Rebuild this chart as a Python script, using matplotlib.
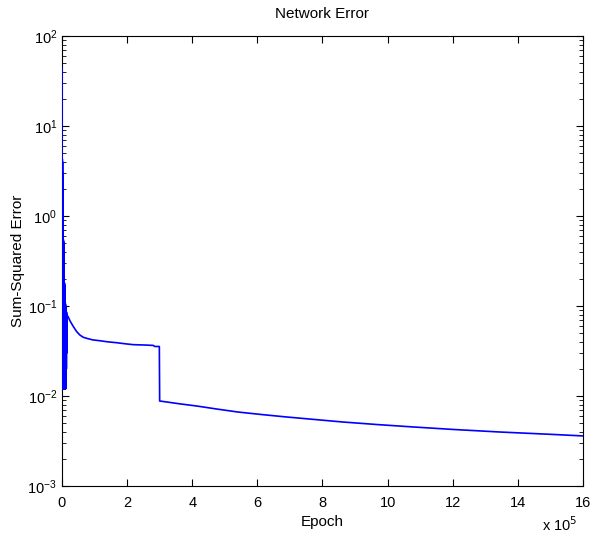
import numpy as np
import matplotlib.pyplot as plt
from matplotlib.ticker import LogLocator, NullFormatter

plt.rcParams['font.family'] = ['Liberation Sans', 'DejaVu Sans']

# epoch in units of 1e5; early training oscillates hard
osc_epoch = [0.0000, 0.0025, 0.0050, 0.0075, 0.0100, 0.0125, 0.0150, 0.0175, 0.0200, 0.0225,
             0.0250, 0.0275, 0.0300, 0.0325, 0.0350, 0.0375, 0.0400, 0.0425, 0.0450, 0.0475,
             0.0500, 0.0525, 0.0550, 0.0575, 0.0600, 0.0625, 0.0650, 0.0675, 0.0700, 0.0725,
             0.0750, 0.0775, 0.0800, 0.0825, 0.0850, 0.0875, 0.0900, 0.0925, 0.0950, 0.0975,
             0.1000, 0.1025, 0.1050, 0.1075, 0.1100, 0.1125, 0.1150, 0.1175, 0.1200, 0.1250,
             0.1300, 0.1350, 0.1400, 0.1450, 0.1500, 0.1550, 0.1600]
osc_err = [45, 0.012, 4.5, 0.012, 4.3, 0.012, 4.0, 0.013, 3.0, 0.012,
           2.0, 0.012, 0.6, 0.013, 0.58, 0.012, 0.55, 0.013, 0.53, 0.012,
           0.5, 0.013, 0.45, 0.012, 0.35, 0.012, 0.2, 0.013, 0.18, 0.012,
           0.18, 0.013, 0.17, 0.012, 0.16, 0.013, 0.15, 0.012, 0.12, 0.013,
           0.11, 0.012, 0.105, 0.013, 0.10, 0.012, 0.095, 0.014, 0.09, 0.016,
           0.088, 0.02, 0.085, 0.03, 0.08, 0.05, 0.078]

tail_epoch = [0.19, 0.25, 0.35, 0.45, 0.55, 0.65, 0.76, 0.95, 1.17, 1.4,
              1.68, 1.95, 2.19, 2.5, 2.8, 2.85, 2.99, 3.0, 3.2, 3.6,
              4.14, 4.75, 5.40, 6.14, 6.91, 7.77, 8.63, 9.67, 10.78, 12.01,
              13.45, 15.08, 16.0]
tail_err = [0.076, 0.068, 0.059, 0.052, 0.0476, 0.045, 0.0437, 0.042, 0.0411, 0.040,
            0.0391, 0.038, 0.0372, 0.0369, 0.0365, 0.0355, 0.0355, 0.0088, 0.0086, 0.0082,
            0.00774, 0.00717, 0.00664, 0.00622, 0.00584, 0.00548, 0.00514, 0.00482, 0.00453, 0.00425,
            0.00398, 0.00374, 0.0036]

epoch = np.array(osc_epoch + tail_epoch)
err = np.array(osc_err + tail_err)

fig = plt.figure(figsize=(5.92, 5.40), dpi=100)
ax = fig.add_axes([0.1047, 0.1, 0.880, 0.8333])

ax.semilogy(epoch, err, color='#0000ff', lw=1.2, zorder=3)

ax.set_xlim(0, 16)
ax.set_ylim(1e-3, 1e2)
ax.set_xticks(np.arange(0, 17, 2))
ax.yaxis.set_major_locator(LogLocator(base=10, numticks=10))
ax.yaxis.set_minor_locator(LogLocator(base=10, subs=np.arange(2, 10), numticks=20))
ax.yaxis.set_minor_formatter(NullFormatter())

ax.tick_params(which='both', direction='in', top=True, right=True, labelsize=10.5)
ax.tick_params(which='major', length=5, width=0.8)
ax.tick_params(which='minor', length=3, width=0.6)
ax.tick_params(axis='x', pad=7)
for s in ax.spines.values():
    s.set_linewidth(0.8)

ax.set_title('Network Error', fontsize=11, pad=13)
ax.set_xlabel('Epoch', fontsize=11, labelpad=4)
ax.set_ylabel('Sum-Squared Error', fontsize=11, labelpad=2)
fig.text(0.975, 0.012, r'x 10$^{5}$', fontsize=10.5, ha='right', va='bottom')

fig.savefig('out.png', dpi=100, facecolor='white')
